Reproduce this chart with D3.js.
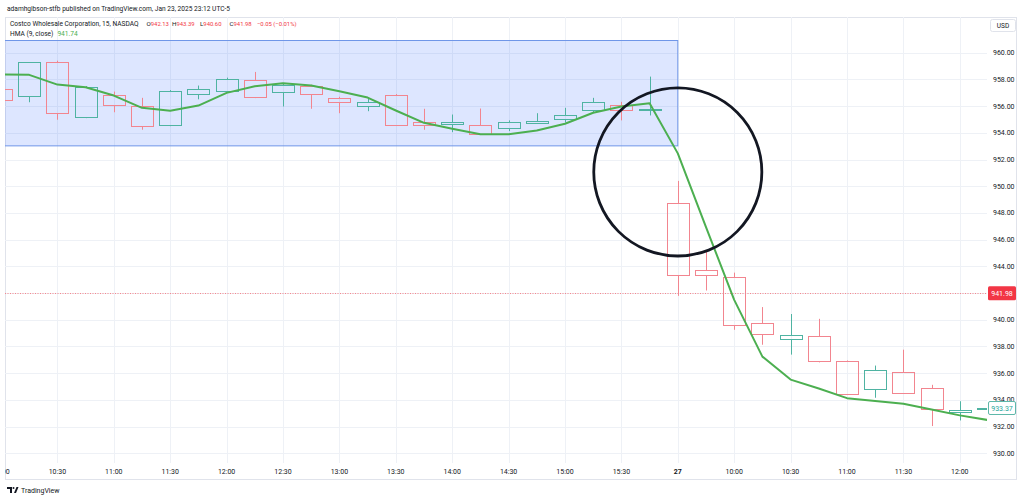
<!DOCTYPE html>
<html>
<head>
<meta charset="utf-8">
<script src="https://cdn.jsdelivr.net/npm/d3@7"></script>
<style>
  body { margin: 0; background: #fff; }
  svg { display: block; font-family: Roboto, "Noto Sans", sans-serif; }
</style>
</head>
<body>
<svg id="chart" width="1024" height="500"></svg>
<script>
// 15 minute bars, COST, Jan 24 10:00 -> Jan 27 12:15
var barTimes = ["10:00","10:15","10:30","10:45","11:00","11:15","11:30","11:45",
  "12:00","12:15","12:30","12:45","13:00","13:15","13:30","13:45",
  "14:00","14:15","14:30","14:45","15:00","15:15","15:30","15:45",
  "09:30","09:45","10:00","10:15","10:30","10:45","11:00","11:15",
  "11:30","11:45","12:00","12:15"];
var opens  = [957.29,956.79,959.28,955.17,956.84,956.04,954.60,956.92,957.14,957.96,957.07,957.54,
  956.62,956.02,956.84,954.83,954.63,954.60,954.33,954.75,955.05,955.72,956.07,955.78,
  948.71,943.71,943.19,939.75,938.53,938.81,936.92,934.83,936.10,934.90,933.11,933.37];
var highs  = [957.45,959.30,959.40,957.50,957.09,956.62,957.20,957.54,958.13,958.56,957.65,957.60,
  956.70,956.62,956.90,955.80,955.37,955.82,954.93,955.47,955.87,956.62,956.32,958.21,
  950.40,945.17,943.53,940.95,940.43,940.07,936.95,936.57,937.76,935.13,933.90,933.37];
var lows   = [956.30,956.29,954.98,955.10,955.54,954.23,954.50,956.51,957.04,956.60,955.97,955.80,
  955.47,955.62,954.55,954.23,954.05,953.85,954.13,954.68,954.78,955.54,954.93,955.30,
  941.79,942.19,939.25,938.13,937.39,936.81,934.40,934.16,934.48,932.04,932.46,933.37];
var closes = [956.47,959.28,955.50,957.46,956.12,954.50,957.16,957.26,958.01,956.69,957.59,956.92,
  956.32,956.32,954.60,954.60,954.78,953.90,954.78,954.90,955.35,956.32,955.72,955.80,
  943.36,943.34,939.60,938.93,938.86,936.89,934.43,936.25,934.53,933.34,933.23,933.37];
var hma    = [958.38,958.34,957.61,957.41,956.79,955.87,955.65,956.04,956.99,957.49,957.71,957.54,
  957.11,956.64,955.67,954.75,954.31,953.90,953.90,954.18,954.68,955.50,955.97,956.22,
  952.46,946.94,941.49,937.24,935.52,934.85,934.13,933.92,933.71,933.28,932.84,932.49];

var timeTickBars   = [0,2,4,6,8,10,12,14,16,18,20,22,24,26,28,30,32,34];
var timeTickLabels = ["10:00","10:30","11:00","11:30","12:00","12:30","13:00","13:30","14:00",
  "14:30","15:00","15:30","27","10:00","10:30","11:00","11:30","12:00"];
var priceTicks = [930,932,934,936,938,940,942,944,946,948,950,952,954,956,958,960];

var lastPrice = 941.98;
var closePrice = 933.37;
// drawings
var boxBars = [-5, 24], boxPrices = [953.06, 960.95];
var circleBar = 24, circlePrice = 951.07, circleRadiusBars = 2.98;

var upColor = "#4fb3a2", downColor = "#f2858f";

var svg = d3.select("#chart");
var pLeft = 5, pTop = 17, pRight = 987, pBottom = 463;

var x = d3.scaleLinear().domain([0, 35]).range([1, 988]);
var y = d3.scaleLinear().domain([930, 960]).range([453.3, 52.7]);

var defs = svg.append("defs");
defs.append("clipPath").attr("id", "plot")
  .append("rect").attr("x", pLeft).attr("y", pTop)
  .attr("width", pRight - pLeft).attr("height", pBottom - pTop);
defs.append("clipPath").attr("id", "axisclip")
  .append("rect").attr("x", 5).attr("y", 463).attr("width", 982).attr("height", 17);

var crisp = function(v) { return Math.round(v) + 0.5; };

// frame
svg.append("rect").attr("x", 5.5).attr("y", 17.5).attr("width", 1011).attr("height", 462)
  .attr("fill", "none").attr("stroke", "#e0e3eb");

var plot = svg.append("g").attr("clip-path", "url(#plot)");

// grid
plot.selectAll(".vgrid").data(timeTickBars).enter().append("line")
  .attr("x1", function(d) { return crisp(x(d)); }).attr("x2", function(d) { return crisp(x(d)); })
  .attr("y1", pTop).attr("y2", pBottom)
  .attr("stroke", "#eef1f6");
plot.selectAll(".hgrid").data(priceTicks).enter().append("line")
  .attr("x1", pLeft).attr("x2", pRight)
  .attr("y1", function(d) { return crisp(y(d)); }).attr("y2", function(d) { return crisp(y(d)); })
  .attr("stroke", "#eef1f6");

// rectangle drawing
plot.append("rect")
  .attr("x", x(boxBars[0])).attr("y", crisp(y(boxPrices[1])))
  .attr("width", x(boxBars[1]) - x(boxBars[0]))
  .attr("height", y(boxPrices[0]) - y(boxPrices[1]))
  .attr("fill", "rgba(41,98,255,0.16)")
  .attr("stroke", "#6f96e8").attr("stroke-width", 1);

// last price line
plot.append("line")
  .attr("x1", pLeft).attr("x2", pRight)
  .attr("y1", crisp(y(lastPrice))).attr("y2", crisp(y(lastPrice)))
  .attr("stroke", "#f7858c").attr("stroke-dasharray", "1,1.5");

// candles (hollow)
var bars = d3.range(barTimes.length);
var bw = 22;
var candles = plot.selectAll(".candle").data(bars).enter().append("g");
candles.each(function(i) {
  var g = d3.select(this);
  var col = closes[i] >= opens[i] ? upColor : downColor;
  var cx = crisp(x(i));
  var yt = Math.round(y(Math.max(opens[i], closes[i])));
  var yb = Math.round(y(Math.min(opens[i], closes[i])));
  if (yb - yt < 1) yb = yt + 1;
  g.append("line").attr("x1", cx).attr("x2", cx)
    .attr("y1", y(highs[i])).attr("y2", yt + 0.5).attr("stroke", col);
  g.append("line").attr("x1", cx).attr("x2", cx)
    .attr("y1", yb + 0.5).attr("y2", y(lows[i])).attr("stroke", col);
  g.append("rect")
    .attr("x", Math.round(x(i) - bw / 2) + 0.5).attr("y", yt + 0.5)
    .attr("width", bw).attr("height", yb - yt)
    .attr("fill", "none").attr("stroke", col);
});

// HMA
plot.append("path")
  .datum(bars)
  .attr("d", d3.line().x(function(i) { return x(i); }).y(function(i) { return y(hma[i]); }))
  .attr("fill", "none").attr("stroke", "#4caf50").attr("stroke-width", 2)
  .attr("stroke-linejoin", "round");

// circle drawing
svg.append("circle")
  .attr("cx", x(circleBar)).attr("cy", y(circlePrice))
  .attr("r", x(circleBar + circleRadiusBars) - x(circleBar))
  .attr("fill", "none").attr("stroke", "#131722").attr("stroke-width", 2.8);

// price axis
svg.selectAll(".ptick").data(priceTicks).enter().append("text")
  .attr("x", 993).attr("y", function(d) { return y(d) + 2.5; })
  .attr("font-size", 7).attr("fill", "#131722")
  .text(function(d) { return d.toFixed(2); });

// time axis
svg.append("g").attr("clip-path", "url(#axisclip)")
  .selectAll(".ttick").data(timeTickBars).enter().append("text")
  .attr("x", function(d) { return x(d); }).attr("y", 474)
  .attr("text-anchor", "middle").attr("font-size", 7).attr("fill", "#131722")
  .attr("font-weight", function(d, k) { return timeTickLabels[k] === "27" ? "bold" : "normal"; })
  .text(function(d, k) { return timeTickLabels[k]; });

// USD box
svg.append("rect").attr("x", 990.5).attr("y", 19.5).attr("width", 25).attr("height", 12).attr("rx", 2)
  .attr("fill", "#fff").attr("stroke", "#e0e3eb");
svg.append("text").attr("x", 1003).attr("y", 28).attr("text-anchor", "middle")
  .attr("font-size", 6.5).attr("fill", "#131722").text("USD");

// last price label
svg.append("rect").attr("x", 988).attr("y", y(lastPrice) - 7).attr("width", 28).attr("height", 14)
  .attr("rx", 1.5).attr("fill", "#f23645");
svg.append("text").attr("x", 1002).attr("y", y(lastPrice) + 2.5).attr("text-anchor", "middle")
  .attr("font-size", 7).attr("fill", "#fff").text(lastPrice.toFixed(2));

// close price label
svg.append("rect").attr("x", 988.5).attr("y", Math.round(y(closePrice) - 7) + 0.5).attr("width", 27).attr("height", 13)
  .attr("rx", 1.5).attr("fill", "#fff").attr("stroke", "#5fb8aa");
svg.append("text").attr("x", 1002).attr("y", y(closePrice) + 2.5).attr("text-anchor", "middle")
  .attr("font-size", 7).attr("fill", "#26a69a").text(closePrice.toFixed(2));

// header + legend
svg.append("text").attr("x", 7).attr("y", 10.5).attr("font-size", 6.6).attr("fill", "#131722")
  .text("adamhgibson-stfb published on TradingView.com, Jan 23, 2025 23:12 UTC-5");

var leg = svg.append("text").attr("y", 26).attr("font-size", 6.6).attr("fill", "#131722");
leg.append("tspan").attr("x", 10).text("Costco Wholesale Corporation, 15, NASDAQ");
var ohlc = [["O", "942.13", 146.5], ["H", "943.39", 172], ["L", "940.60", 200], ["C", "941.98", 229.5]];
ohlc.forEach(function(p) {
  leg.append("tspan").attr("x", p[2]).attr("font-size", 6.2).text(p[0]);
  leg.append("tspan").attr("fill", "#f23645").attr("font-size", 5.9).text(p[1]);
});
leg.append("tspan").attr("x", 257).attr("fill", "#f23645").attr("font-size", 5.9)
  .text("\u22120.05 (\u22120.01%)");

var leg2 = svg.append("text").attr("x", 10).attr("y", 35.5).attr("font-size", 6.6).attr("fill", "#131722");
leg2.append("tspan").text("HMA (9, close)");
leg2.append("tspan").attr("dx", 4).attr("fill", "#4caf50").text("941.74");

// footer
var logo = svg.append("g").attr("fill", "#131722");
logo.append("path").attr("d", "M7,487 h5 v6 h-2 v-4 h-3 z");
logo.append("circle").attr("cx", 13.5).attr("cy", 488).attr("r", 1);
logo.append("path").attr("d", "M14,493 l2.5,-6 h2 l-2.5,6 z");
svg.append("text").attr("x", 21).attr("y", 493).attr("font-size", 7).attr("fill", "#131722")
  .text("TradingView");
</script>
</body>
</html>
